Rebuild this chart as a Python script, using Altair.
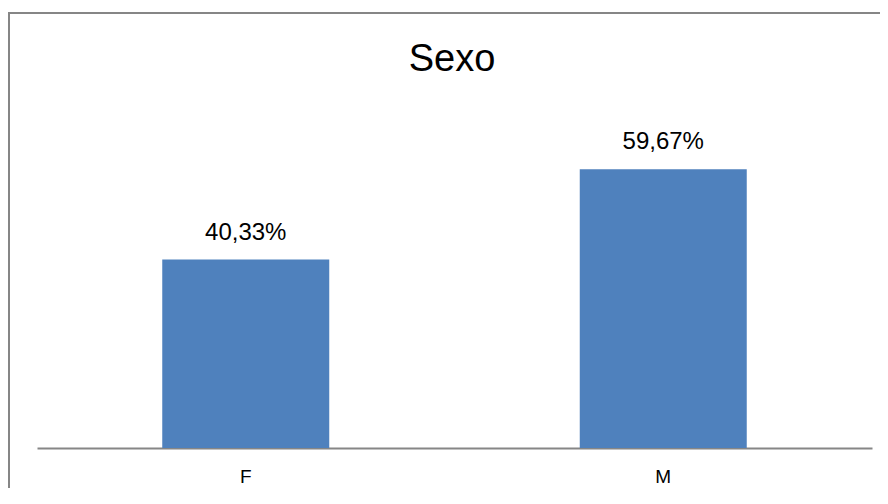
import altair as alt
import pandas as pd

categories = ["F", "M"]
values = [40.33, 59.67]
title_text = "Sexo"

df = pd.DataFrame({
    "sexo": categories,
    "pct": values,
    "label": [f"{v:.2f}%".replace(".", ",") for v in values],
})

FONT = "Liberation Sans"
GRAY = "#868686"

x_enc = alt.X("sexo:N", sort=categories,
              scale=alt.Scale(paddingInner=0.6, paddingOuter=0.3),
              axis=alt.Axis(title=None, labelAngle=0, ticks=False, domainColor=GRAY,
                            domainWidth=2, labelFont=FONT, labelFontSize=19,
                            labelColor="#000000", labelPadding=19))
y_enc = alt.Y("pct:Q", scale=alt.Scale(domain=[0, 70]), axis=None)

bars = alt.Chart(df).mark_bar(color="#4F81BD").encode(x=x_enc, y=y_enc)
labels = alt.Chart(df).mark_text(font=FONT, fontSize=24, dy=-20, baseline="alphabetic",
                                 color="#000000").encode(x=x_enc, y=y_enc, text="label:N")

one = alt.Data(values=[{"t": title_text}])
border_left = alt.Chart(one).mark_rule(color=GRAY, strokeWidth=2).encode(
    x=alt.value(-28), y=alt.value(-109), y2=alt.value(367))
border_top = alt.Chart(one).mark_rule(color=GRAY, strokeWidth=2).encode(
    x=alt.value(-29), x2=alt.value(843), y=alt.value(-108))
title = alt.Chart(one).mark_text(font=FONT, fontSize=38, baseline="alphabetic",
                                 align="center", color="#000000").encode(
    x=alt.value(415), y=alt.value(-50), text="t:N")

chart = alt.layer(border_left, border_top, title, bars, labels).properties(
    width=835, height=327,
    autosize=alt.AutoSizeParams(type="none"),
    padding={"left": 29, "top": 113, "right": 8, "bottom": 40},
).configure_view(stroke=None)

chart.save("out.html", embed_options={"renderer": "svg", "actions": False})
